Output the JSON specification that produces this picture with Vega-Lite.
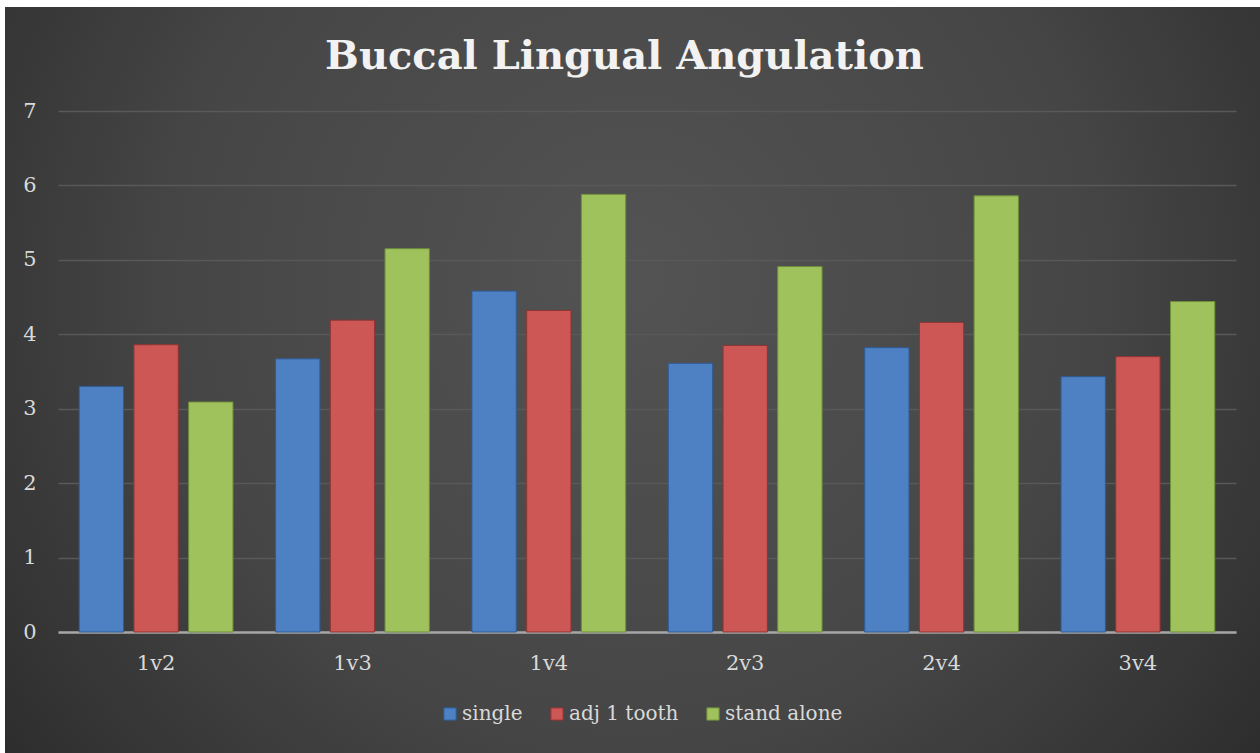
{
  "$schema": "https://vega.github.io/schema/vega-lite/v6.json",
  "width": 1255,
  "height": 746,
  "autosize": {"type": "none"},
  "padding": {"left": 5, "top": 7, "right": 0, "bottom": 0},
  "background": "#ffffff",
  "title": {
    "text": "Buccal Lingual Angulation",
    "font": "DejaVu Serif",
    "fontSize": 40,
    "fontWeight": "bold",
    "color": "#f2f2f2",
    "anchor": "middle",
    "frame": "group",
    "dx": -8,
    "offset": -70
  },
  "data": {
    "values": [
      {"pair": "1v2", "group": "single", "value": 3.30},
      {"pair": "1v2", "group": "adj 1 tooth", "value": 3.86},
      {"pair": "1v2", "group": "stand alone", "value": 3.09},
      {"pair": "1v3", "group": "single", "value": 3.67},
      {"pair": "1v3", "group": "adj 1 tooth", "value": 4.19},
      {"pair": "1v3", "group": "stand alone", "value": 5.15},
      {"pair": "1v4", "group": "single", "value": 4.58},
      {"pair": "1v4", "group": "adj 1 tooth", "value": 4.32},
      {"pair": "1v4", "group": "stand alone", "value": 5.88},
      {"pair": "2v3", "group": "single", "value": 3.61},
      {"pair": "2v3", "group": "adj 1 tooth", "value": 3.85},
      {"pair": "2v3", "group": "stand alone", "value": 4.91},
      {"pair": "2v4", "group": "single", "value": 3.82},
      {"pair": "2v4", "group": "adj 1 tooth", "value": 4.16},
      {"pair": "2v4", "group": "stand alone", "value": 5.86},
      {"pair": "3v4", "group": "single", "value": 3.43},
      {"pair": "3v4", "group": "adj 1 tooth", "value": 3.70},
      {"pair": "3v4", "group": "stand alone", "value": 4.44}
    ]
  },
  "mark": {"type": "bar", "strokeWidth": 1},
  "encoding": {
    "x": {
      "field": "pair",
      "type": "nominal",
      "sort": null,
      "scale": {"range": [53, 1231], "paddingInner": 0.217, "paddingOuter": 0.108},
      "axis": {
        "title": null,
        "labelAngle": 0,
        "ticks": false,
        "grid": false,
        "domain": true,
        "domainColor": "#a6a6a6",
        "domainWidth": 2.5,
        "offset": -121,
        "labelPadding": 20,
        "labelFontSize": 21
      }
    },
    "xOffset": {
      "field": "group",
      "type": "nominal",
      "sort": ["single", "adj 1 tooth", "stand alone"],
      "scale": {"paddingInner": 0.19, "paddingOuter": 0}
    },
    "y": {
      "field": "value",
      "type": "quantitative",
      "scale": {"domain": [0, 7], "range": [625, 104]},
      "axis": {
        "title": null,
        "values": [0, 1, 2, 3, 4, 5, 6, 7],
        "domain": false,
        "ticks": false,
        "grid": true,
        "gridColor": "#595959",
        "gridWidth": 1.5,
        "offset": -53,
        "labelPadding": 22,
        "labelFontSize": 21
      }
    },
    "color": {
      "field": "group",
      "type": "nominal",
      "sort": ["single", "adj 1 tooth", "stand alone"],
      "scale": {
        "domain": ["single", "adj 1 tooth", "stand alone"],
        "range": ["#4d81c4", "#cc5755", "#a0c25d"]
      },
      "legend": {
        "title": null,
        "orient": "none",
        "direction": "horizontal",
        "legendX": 435,
        "legendY": 697,
        "symbolType": "square",
        "symbolSize": 150,
        "symbolStrokeWidth": 1,
        "labelOffset": 2,
        "columnPadding": 24,
        "labelFontSize": 20
      }
    },
    "stroke": {
      "field": "group",
      "type": "nominal",
      "sort": ["single", "adj 1 tooth", "stand alone"],
      "scale": {
        "domain": ["single", "adj 1 tooth", "stand alone"],
        "range": ["#2f5c96", "#8f3432", "#6f8f3a"]
      },
      "legend": null
    }
  },
  "config": {
    "view": {
      "stroke": null,
      "fill": {
        "gradient": "radial",
        "x1": 0.5, "y1": 0.42, "r1": 0,
        "x2": 0.5, "y2": 0.42, "r2": 0.72,
        "stops": [
          {"offset": 0, "color": "#535353"},
          {"offset": 0.5, "color": "#464646"},
          {"offset": 0.82, "color": "#313131"},
          {"offset": 1, "color": "#212121"}
        ]
      }
    },
    "axis": {
      "labelFont": "DejaVu Serif",
      "labelColor": "#d9d9d9"
    },
    "legend": {
      "labelFont": "DejaVu Serif",
      "labelColor": "#d9d9d9"
    }
  }
}
